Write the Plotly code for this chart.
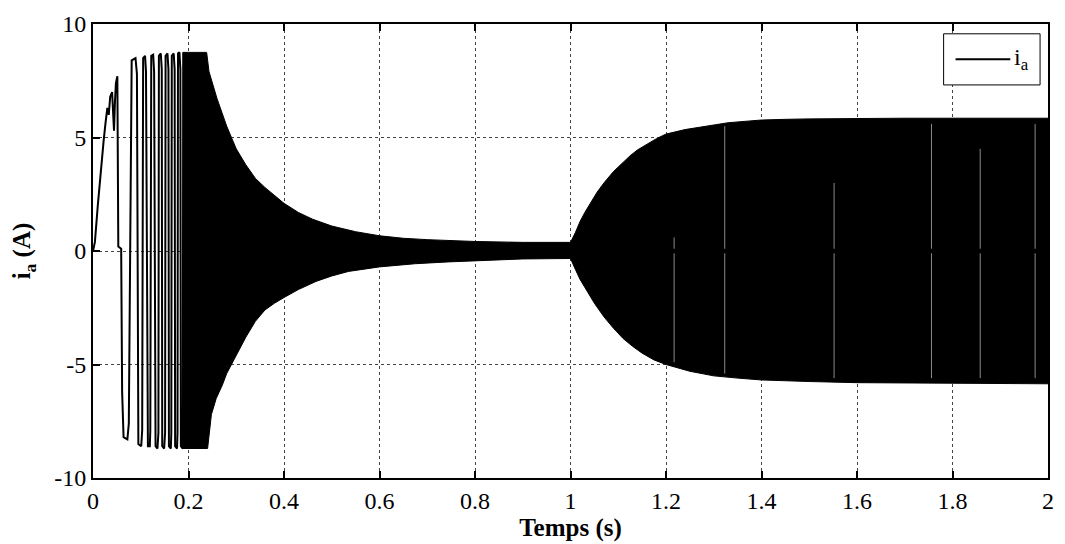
import plotly.graph_objects as go

# Phase current i_a during start-up (0-0.19 s, individual oscillations)
early_t = [0.000, 0.004, 0.010, 0.016, 0.022, 0.026, 0.030, 0.033, 0.036, 0.040,
           0.042, 0.044, 0.046, 0.048, 0.051, 0.052, 0.053, 0.059, 0.061, 0.064,
           0.072, 0.075, 0.079, 0.081, 0.089, 0.092, 0.095, 0.101, 0.103, 0.105,
           0.109, 0.111, 0.115, 0.119, 0.120, 0.122, 0.126, 0.128, 0.131, 0.135,
           0.137, 0.138, 0.142, 0.144, 0.145, 0.149, 0.151, 0.152, 0.156, 0.158,
           0.159, 0.163, 0.164, 0.165, 0.169, 0.171, 0.172, 0.176, 0.177, 0.178,
           0.181, 0.183, 0.184, 0.188, 0.189]
early_v = [0.0, 0.4, 2.0, 3.6, 4.8, 5.6, 6.3, 6.0, 6.8, 7.0,
           5.9, 5.3, 6.6, 7.4, 7.7, 4.0, 0.2, 0.1, -6.2, -8.2,
           -8.3, -7.6, 6.2, 8.4, 8.5, 7.8, -8.5, -8.6, -7.9, 8.5,
           8.6, 7.9, -8.6, -8.6, -7.9, 8.6, 8.65, 7.9, -8.6, -8.7,
           -8.0, 8.6, 8.7, 8.0, -8.6, -8.7, -8.0, 8.6, 8.7, 8.0,
           -8.6, -8.7, -8.0, 8.6, 8.7, 8.0, -8.6, -8.7, -8.0, 8.7,
           8.75, 8.0, -8.6, -8.7, 8.75]

# Envelope of the dense oscillation (0.188-2 s)
upper_t = [0.188, 0.238, 0.243, 0.250, 0.260, 0.270, 0.280, 0.290, 0.300, 0.320,
           0.340, 0.360, 0.380, 0.400, 0.430, 0.460, 0.500, 0.550, 0.600, 0.650,
           0.700, 0.750, 0.800, 0.900, 1.000, 1.010, 1.020, 1.030, 1.042, 1.056,
           1.070, 1.090, 1.110, 1.125, 1.140, 1.160, 1.180, 1.200, 1.240, 1.270,
           1.300, 1.330, 1.370, 1.400, 1.450, 1.500, 1.700, 2.000]
upper_v = [8.75, 8.75, 7.9, 7.4, 6.7, 6.1, 5.5, 5.0, 4.5, 3.8,
           3.2, 2.8, 2.45, 2.1, 1.7, 1.4, 1.1, 0.85, 0.67, 0.56,
           0.50, 0.46, 0.42, 0.38, 0.38, 0.8, 1.3, 1.7, 2.1, 2.6,
           3.0, 3.5, 3.9, 4.2, 4.45, 4.7, 4.95, 5.15, 5.35, 5.45,
           5.55, 5.65, 5.72, 5.77, 5.8, 5.82, 5.85, 5.85]
lower_t = [0.188, 0.240, 0.248, 0.258, 0.271, 0.280, 0.290, 0.300, 0.320, 0.340,
           0.360, 0.380, 0.400, 0.430, 0.467, 0.500, 0.535, 0.600, 0.675, 0.744,
           0.800, 0.900, 1.000, 1.010, 1.020, 1.035, 1.050, 1.070, 1.090, 1.110,
           1.130, 1.150, 1.175, 1.200, 1.250, 1.300, 1.350, 1.400, 1.500, 1.600,
           2.000]
lower_v = [-8.7, -8.7, -7.2, -6.5, -5.9, -5.4, -5.0, -4.6, -3.8, -3.1,
           -2.6, -2.3, -2.05, -1.7, -1.34, -1.1, -0.9, -0.7, -0.56, -0.48,
           -0.42, -0.35, -0.33, -0.8, -1.25, -1.8, -2.3, -2.9, -3.4, -3.85,
           -4.2, -4.5, -4.8, -5.0, -5.3, -5.5, -5.6, -5.68, -5.75, -5.8,
           -5.85]

# Thin gaps in the loaded-regime oscillation (time, top value, bottom value)
gap_t = [1.217, 1.323, 1.552, 1.756, 1.858, 1.973]
gap_top = [0.6, 5.5, 3.0, 5.6, 4.5, 5.6]
gap_bottom = [-4.9, -5.4, -5.6, -5.6, -5.6, -5.6]

x_ticks = [0, 0.2, 0.4, 0.6, 0.8, 1, 1.2, 1.4, 1.6, 1.8, 2]
x_tick_text = ["0", "0.2", "0.4", "0.6", "0.8", "1", "1.2", "1.4", "1.6", "1.8", "2"]
y_ticks = [-10, -5, 0, 5, 10]
y_tick_text = ["-10", "-5", "0", "5", "10"]

series_name = "i<sub>a</sub>"
FONT = "Liberation Serif, Times New Roman, serif"

fig = go.Figure()

fig.add_trace(go.Scatter(
    x=upper_t + lower_t[::-1],
    y=upper_v + lower_v[::-1],
    mode="lines",
    fill="toself",
    fillcolor="black",
    line=dict(color="black", width=1),
    showlegend=False,
    hoverinfo="skip",
))

fig.add_trace(go.Scatter(
    x=early_t,
    y=early_v,
    mode="lines",
    line=dict(color="black", width=2),
    name=series_name,
    showlegend=False,
))

# Gap streaks, each split around the zero crossing
gx, gy = [], []
for t, top, bot in zip(gap_t, gap_top, gap_bottom):
    gx += [t, t, None, t, t, None]
    gy += [top, 0.1, None, -0.1, bot, None]
fig.add_trace(go.Scatter(
    x=gx, y=gy, mode="lines",
    line=dict(color="#8a8a8a", width=1),
    showlegend=False, hoverinfo="skip",
))

axis_common = dict(
    showline=True,
    linecolor="black",
    linewidth=2,
    mirror="allticks",
    ticks="inside",
    ticklen=7,
    tickwidth=2,
    tickcolor="black",
    showgrid=True,
    gridcolor="#444444",
    griddash="dot",
    gridwidth=1,
    zeroline=False,
    tickfont=dict(family=FONT, size=24, color="black"),
)

fig.update_xaxes(
    range=[0, 2],
    tickvals=x_ticks,
    ticktext=x_tick_text,
    title=dict(text="<b>Temps (s)</b>", font=dict(family=FONT, size=25, color="black"),
               standoff=2),
    **axis_common,
)
fig.update_yaxes(
    range=[-10, 10],
    tickvals=y_ticks,
    ticktext=y_tick_text,
    title=dict(text="<b>i<sub>a</sub> (A)</b>", font=dict(family=FONT, size=25, color="black"),
               standoff=16),
    **axis_common,
)

# Legend box drawn in paper coordinates
fig.add_shape(type="rect", xref="paper", yref="paper",
              x0=0.8907, x1=0.9917, y0=0.8658, y1=0.9784,
              line=dict(color="black", width=1), fillcolor="white", layer="above")
fig.add_shape(type="line", xref="paper", yref="paper",
              x0=0.9032, x1=0.9605, y0=0.9221, y1=0.9221,
              line=dict(color="black", width=2), layer="above")
fig.add_annotation(xref="paper", yref="paper", x=0.9625, y=0.9221,
                   text=series_name, showarrow=False, xanchor="left", yanchor="middle",
                   font=dict(family=FONT, size=24, color="black"))

fig.update_layout(
    width=1065,
    height=544,
    margin=dict(l=93, r=11, t=16, b=66),
    paper_bgcolor="white",
    plot_bgcolor="white",
    font=dict(family=FONT, color="black"),
    showlegend=False,
)

fig.write_html("out.html")
